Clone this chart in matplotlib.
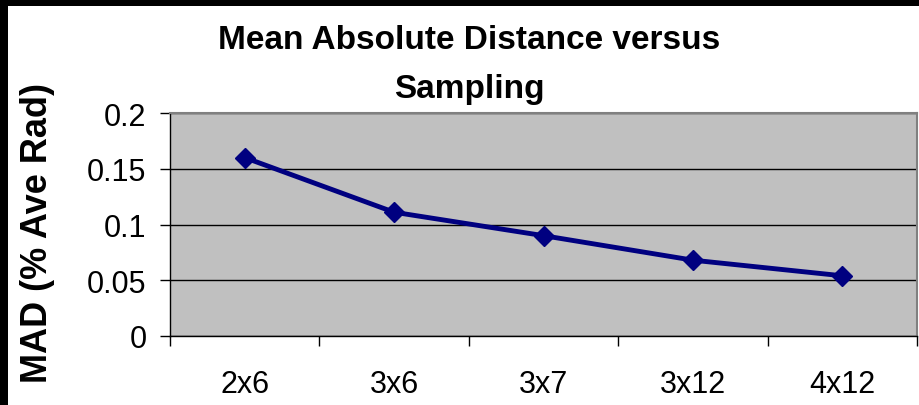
import matplotlib
matplotlib.use("Agg")
import matplotlib.pyplot as plt
from matplotlib.patches import Rectangle
from matplotlib.ticker import FixedLocator

# data
sampling = ["2x6", "3x6", "3x7", "3x12", "4x12"]
mad = [0.160, 0.111, 0.090, 0.068, 0.054]
yticks = [0, 0.05, 0.1, 0.15, 0.2]
ytick_labels = ["0", "0.05", "0.1", "0.15", "0.2"]

plt.rcParams['font.family'] = ['Liberation Sans', 'DejaVu Sans']

W, H = 919, 406
fig = plt.figure(figsize=(W / 100, H / 100), dpi=100)
fig.patch.set_facecolor("white")

# black frame on the left and top edges
fig.patches.append(Rectangle((0, 0), 8 / W, 1, transform=fig.transFigure,
                             facecolor="black", edgecolor="none", zorder=10))
fig.patches.append(Rectangle((0, 1 - 7 / H), 1, 7 / H, transform=fig.transFigure,
                             facecolor="black", edgecolor="none", zorder=10))

ax = fig.add_axes([170 / W, 1 - 337 / H, (917 - 170) / W, (337 - 114) / H])
ax.set_facecolor("#c0c0c0")

x = list(range(len(sampling)))
ax.plot(x, mad, color="#000080", linewidth=3.5, marker="D", markersize=10.5,
        markeredgewidth=1, zorder=5, clip_on=False)

ax.set_xlim(-0.5, len(sampling) - 0.5)
ax.set_ylim(0, 0.2)

ax.set_yticks(yticks)
ax.set_yticklabels(ytick_labels, fontsize=22)
ax.set_xticks(x)
ax.set_xticklabels(sampling, fontsize=22)
ax.xaxis.set_minor_locator(FixedLocator([i - 0.5 for i in range(len(sampling) + 1)]))

ax.tick_params(axis="x", which="major", length=0, pad=24)
ax.tick_params(axis="x", which="minor", length=7, width=1, direction="out", color="black")
ax.tick_params(axis="y", length=7, width=1, direction="out", pad=10, color="black")

ax.grid(axis="y", color="black", linewidth=1)
ax.set_axisbelow(True)

for side in ["left", "bottom"]:
    ax.spines[side].set_color("black")
    ax.spines[side].set_linewidth(1)
for side in ["top", "right"]:
    ax.spines[side].set_color("#808080")
    ax.spines[side].set_linewidth(1.5)

fig.text(38 / W, 1 - 233 / H, "MAD (% Ave Rad)", rotation=90,
         ha="center", va="center", fontsize=26, fontweight="bold")

fig.text(469 / W, 1 - 65 / H, "Mean Absolute Distance versus\nSampling",
         ha="center", va="center", fontsize=24, fontweight="bold",
         linespacing=1.75)

fig.savefig("out.png", dpi=100)
